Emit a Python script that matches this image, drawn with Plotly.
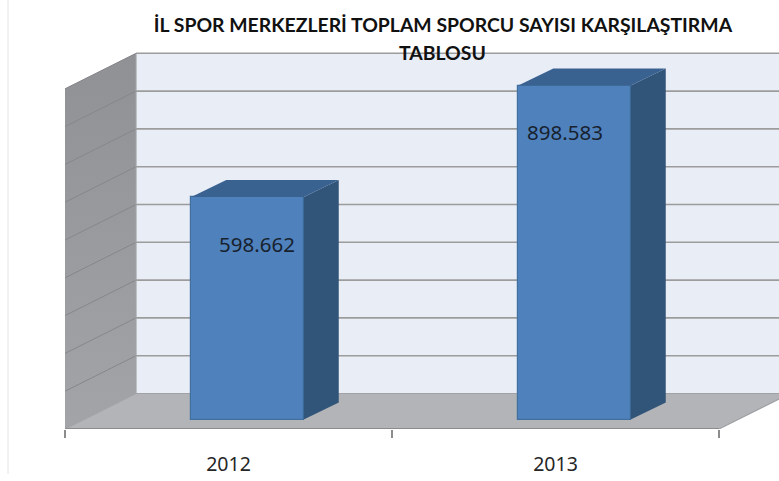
import plotly.graph_objects as go

# Data
categories = ["2012", "2013"]
values = [598662, 898583]
title_lines = ["İL SPOR MERKEZLERİ TOPLAM SPORCU SAYISI KARŞILAŞTIRMA", "TABLOSU"]
grid_levels = [100000, 200000, 300000, 400000, 500000, 600000, 700000, 800000, 900000]

# Page geometry and the 3D projection, in pixels
W, H = 779, 481
AXIS_L, AXIS_R, AXIS_Y = 65, 719, 429
PX_PER_CAT = (AXIS_R - AXIS_L) / len(categories)
PX_PER_VAL = 0.000378
def dx(px): return px / PX_PER_CAT
def dy(px): return px / PX_PER_VAL

WALL_X, WALL_Y = dx(71), dy(35.5)
BAR_X, BAR_Y = dx(35), dy(17)
BAR_W = dx(112.5)
BAR_BASE = dy(9.5)
BAR_SCALE = 0.983
BAR_SHIFT = dx(19)
LABEL_SHIFT = [dx(9.5), dx(-9.5)]
LABEL_DROP = dy(49.5)
n = len(categories)
top = grid_levels[-1]

centers = [i + 0.5 + BAR_SHIFT for i in range(n)]
tops = [v * BAR_SCALE + BAR_BASE for v in values]

FONT = "Noto Sans"
GRID = "#9c9c9c"
fig = go.Figure()

def poly(xs, ys, color, axes=("x", "y"), **kw):
    fig.add_trace(go.Scatter(x=xs, y=ys, mode="lines", fill="toself", fillcolor=color,
                             line=dict(width=0, color=color), hoverinfo="skip",
                             showlegend=False, xaxis=axes[0], yaxis=axes[1], **kw))

# Left wall, back wall, floor
fig.add_trace(go.Scatter(x=[0, WALL_X, WALL_X, 0, 0], y=[0, WALL_Y, top + WALL_Y, top, 0],
                         mode="lines", fill="toself", line=dict(width=0), hoverinfo="skip", showlegend=False,
                         fillgradient=dict(type="vertical", colorscale=[[0, "#a2a4a7"], [1, "#8f9194"]])))
poly([WALL_X, n + WALL_X, n + WALL_X, WALL_X, WALL_X],
     [WALL_Y, WALL_Y, top + WALL_Y, top + WALL_Y, WALL_Y], "#e9edf6")
poly([0, n, n + WALL_X, WALL_X, 0], [0, 0, WALL_Y, WALL_Y, 0], "#b2b4b7")

# Gridlines running over the side wall and along the back wall
side_x, side_y, back_x, back_y = [], [], [], []
for lv in grid_levels:
    side_x += [0, WALL_X, None]
    side_y += [lv, lv + WALL_Y, None]
    back_x += [WALL_X, n + WALL_X, None]
    back_y += [lv + WALL_Y, lv + WALL_Y, None]
fig.add_trace(go.Scatter(x=side_x, y=side_y, mode="lines", line=dict(color="#85878a", width=1),
                         hoverinfo="skip", showlegend=False))
fig.add_trace(go.Scatter(x=back_x, y=back_y, mode="lines", line=dict(color=GRID, width=1.6),
                         hoverinfo="skip", showlegend=False))
# Wall and floor edges
fig.add_trace(go.Scatter(x=[WALL_X, WALL_X, None, WALL_X, n + WALL_X, None, 0, WALL_X, None, n, n + WALL_X],
                         y=[WALL_Y, top + WALL_Y, None, WALL_Y, WALL_Y, None, 0, WALL_Y, None, 0, WALL_Y],
                         mode="lines", line=dict(color="#a0a2a5", width=1.2),
                         hoverinfo="skip", showlegend=False))
fig.add_trace(go.Scatter(x=[0, n], y=[0, 0], mode="lines", line=dict(color="#8c8c8c", width=2),
                         cliponaxis=False, hoverinfo="skip", showlegend=False))

# Bars: front faces are real bars on an overlay so they sit above the walls
fig.add_trace(go.Bar(x=centers, y=[v * BAR_SCALE for v in values], base=BAR_BASE, width=BAR_W,
                     marker=dict(color="#4f81bd", line=dict(color="#41709f", width=1.2)),
                     showlegend=False, xaxis="x2", yaxis="y2",
                     customdata=values, hovertemplate="%{customdata}<extra></extra>"))
for c, t in zip(centers, tops):
    l, r = c - BAR_W / 2, c + BAR_W / 2
    poly([r, r + BAR_X, r + BAR_X, r, r], [BAR_BASE, BAR_BASE + BAR_Y, t + BAR_Y, t, BAR_BASE],
         "#315479", axes=("x2", "y2"))
    poly([l, r, r + BAR_X, l + BAR_X, l], [t, t, t + BAR_Y, t + BAR_Y, t], "#3a6291", axes=("x2", "y2"))

# Data labels
fig.add_trace(go.Scatter(x=[c + s for c, s in zip(centers, LABEL_SHIFT)],
                         y=[t - LABEL_DROP for t in tops],
                         text=[f"{v:,}".replace(",", ".") for v in values],
                         mode="text", textposition="middle center",
                         textfont=dict(family=FONT, size=20.5, color="#17222e"),
                         hoverinfo="skip", showlegend=False, xaxis="x2", yaxis="y2"))

x_range = [-AXIS_L / PX_PER_CAT, (W - AXIS_L) / PX_PER_CAT]
y_range = [0, AXIS_Y / PX_PER_VAL]
fig.update_layout(
    width=W, height=H, margin=dict(l=0, r=0, t=0, b=H - AXIS_Y, pad=0),
    paper_bgcolor="white", plot_bgcolor="white", showlegend=False, bargap=0,
    title=dict(text=title_lines[0], x=443 / W, xanchor="center", y=1 - 25 / H, yanchor="middle",
               font=dict(family="Lato", size=19.4, color="#111111", weight="bold")),
    annotations=[dict(text=f"<b>{title_lines[1]}</b>", xref="paper", yref="paper", x=443 / W, xanchor="center",
                      y=(AXIS_Y - 52) / AXIS_Y, yanchor="middle", showarrow=False,
                      font=dict(family="Lato", size=19.4, color="#111111"))],
    xaxis=dict(range=x_range, showgrid=False, zeroline=False, showline=False, fixedrange=True,
               tickmode="array", tickvals=[i + 0.5 for i in range(n)], ticktext=categories, ticks="",
               ticklabelstandoff=21, tickfont=dict(family=FONT, size=19.5, color="#262626"),
               minor=dict(tickmode="array", tickvals=list(range(n + 1)), ticks="outside", ticklen=8,
                          tickcolor="#8c8c8c", tickwidth=1.5, showgrid=False)),
    yaxis=dict(range=y_range, visible=False, fixedrange=True),
    xaxis2=dict(overlaying="x", matches="x", visible=False),
    yaxis2=dict(overlaying="y", matches="y", visible=False),
    shapes=[dict(type="line", xref="paper", yref="paper", x0=8 / W, x1=8 / W, y0=(AXIS_Y - 474) / AXIS_Y, y1=1,
                 line=dict(color="#e4e4e4", width=1))],
)

fig.write_html("out.html", config=dict(displayModeBar=False),
               post_script="document.body.style.margin='0';window.dispatchEvent(new Event('resize'));")
